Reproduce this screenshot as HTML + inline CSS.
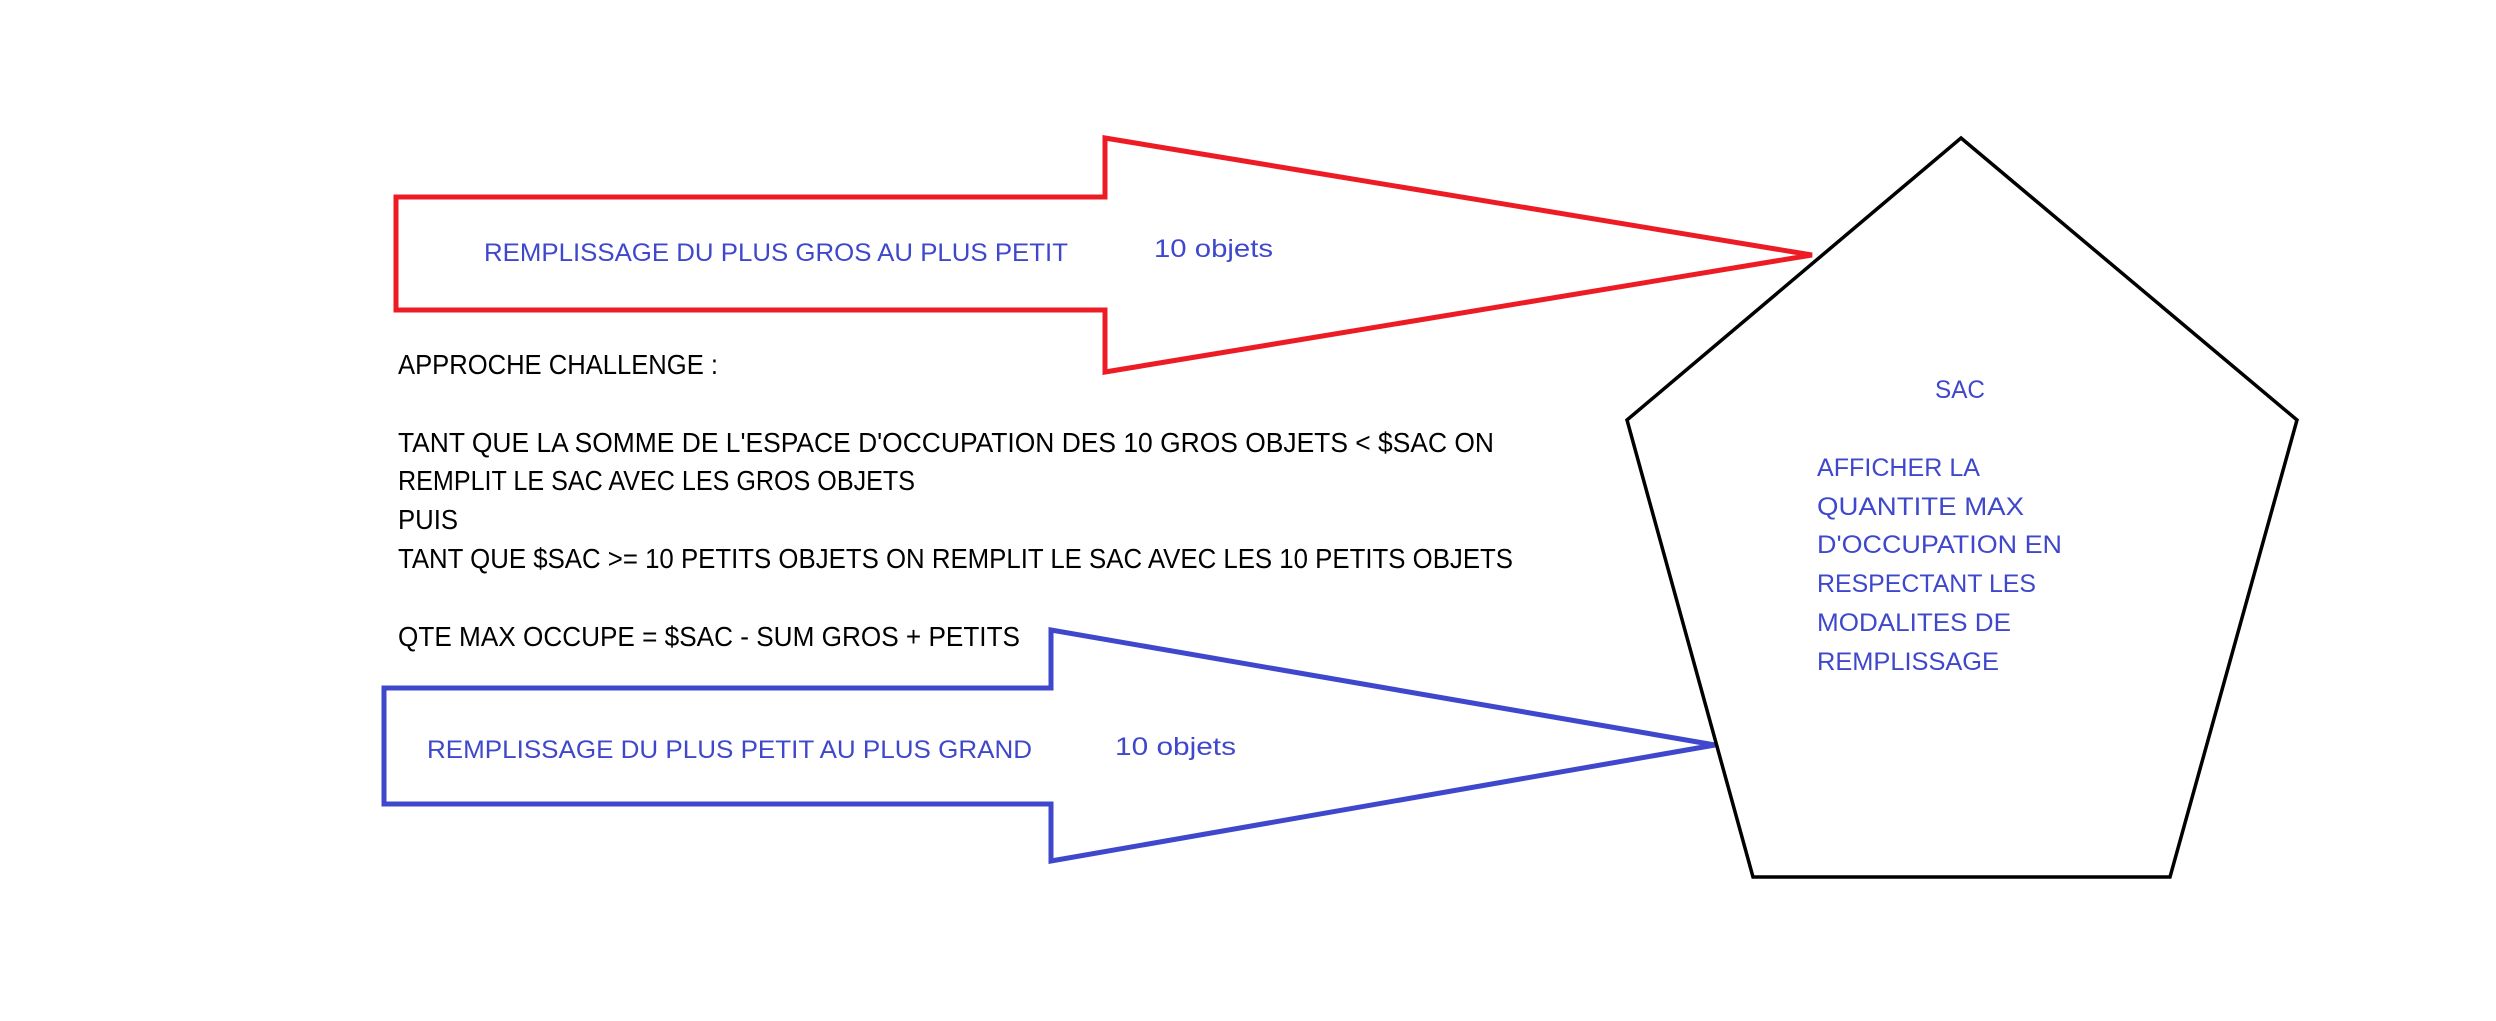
<!DOCTYPE html>
<html><head><meta charset="utf-8"><style>
html,body{margin:0;padding:0;background:#fff;width:2496px;height:1021px;overflow:hidden}
svg{display:block}
text{font-family:"Liberation Sans",sans-serif}
.k{fill:#000;font-size:28px}
.b{fill:#3f48cc;font-size:25px}
</style></head><body>
<svg width="2496" height="1021" viewBox="0 0 2496 1021">
<polygon points="396,197 1105,197 1105,138 1812,255 1105,372 1105,310 396,310" fill="none" stroke="#ed1c24" stroke-width="5" stroke-linejoin="miter"/>
<polygon points="384,688 1051,688 1051,630 1715,745 1051,861 1051,804 384,804" fill="none" stroke="#3f48cc" stroke-width="5"/>
<polygon points="1961,138 2297,420 2170,877 1753,877 1627,420" fill="none" stroke="#000" stroke-width="3.5"/>
<text class="b" x="484" y="261" textLength="584" lengthAdjust="spacingAndGlyphs">REMPLISSAGE DU PLUS GROS AU PLUS PETIT</text>
<text class="b" x="1154" y="257" textLength="119" lengthAdjust="spacingAndGlyphs">10 objets</text>
<text class="b" x="427" y="758" textLength="605" lengthAdjust="spacingAndGlyphs">REMPLISSAGE DU PLUS PETIT AU PLUS GRAND</text>
<text class="b" x="1115" y="755" textLength="121" lengthAdjust="spacingAndGlyphs">10 objets</text>
<text class="k" x="398" y="374" textLength="320" lengthAdjust="spacingAndGlyphs">APPROCHE CHALLENGE :</text>
<text class="k" x="398" y="452" textLength="1096" lengthAdjust="spacingAndGlyphs">TANT QUE LA SOMME DE L'ESPACE D'OCCUPATION DES 10 GROS OBJETS &lt; $SAC ON</text>
<text class="k" x="398" y="490" textLength="517" lengthAdjust="spacingAndGlyphs">REMPLIT LE SAC AVEC LES GROS OBJETS</text>
<text class="k" x="398" y="529" textLength="60" lengthAdjust="spacingAndGlyphs">PUIS</text>
<text class="k" x="398" y="568" textLength="1115" lengthAdjust="spacingAndGlyphs">TANT QUE $SAC &gt;= 10 PETITS OBJETS ON REMPLIT LE SAC AVEC LES 10 PETITS OBJETS</text>
<text class="k" x="398" y="646" textLength="622" lengthAdjust="spacingAndGlyphs">QTE MAX OCCUPE = $SAC - SUM GROS + PETITS</text>
<text class="b" x="1935" y="398" textLength="50" lengthAdjust="spacingAndGlyphs">SAC</text>
<text class="b" x="1817" y="476" textLength="163" lengthAdjust="spacingAndGlyphs">AFFICHER LA</text>
<text class="b" x="1817" y="515" textLength="207" lengthAdjust="spacingAndGlyphs">QUANTITE MAX</text>
<text class="b" x="1817" y="553" textLength="245" lengthAdjust="spacingAndGlyphs">D'OCCUPATION EN</text>
<text class="b" x="1817" y="592" textLength="219" lengthAdjust="spacingAndGlyphs">RESPECTANT LES</text>
<text class="b" x="1817" y="631" textLength="194" lengthAdjust="spacingAndGlyphs">MODALITES DE</text>
<text class="b" x="1817" y="670" textLength="182" lengthAdjust="spacingAndGlyphs">REMPLISSAGE</text>
</svg>
</body></html>
